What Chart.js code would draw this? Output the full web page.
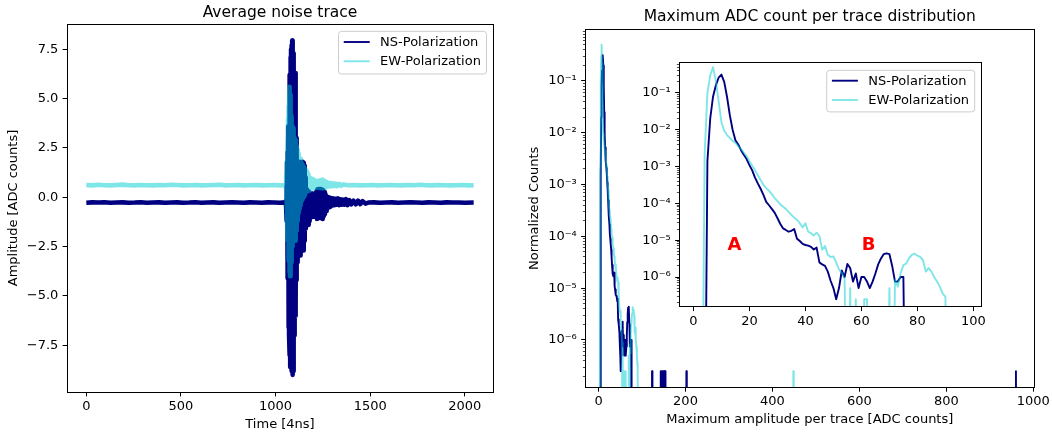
<!DOCTYPE html>
<html>
<head>
<meta charset="utf-8">
<script src="https://cdn.jsdelivr.net/npm/chart.js@4.4.1/dist/chart.umd.min.js"></script>
<style>
html, body { margin: 0; padding: 0; background: #ffffff; }
#wrap { position: relative; width: 1052px; height: 437px; overflow: hidden; background: #ffffff; }
#wrap canvas { position: absolute; }
</style>
</head>
<body>
<div id="wrap">
  <canvas id="cTrace" width="520" height="437" style="left:0px;top:0px;width:520px;height:437px"></canvas>
  <canvas id="cHist" width="532" height="437" style="left:520px;top:0px;width:532px;height:437px"></canvas>
  <canvas id="cInset" width="375" height="300" style="left:620px;top:40px;width:375px;height:300px"></canvas>
</div>
<script>
// ---------------- DATA ----------------
const seriesNames = ['NS-Polarization', 'EW-Polarization'];

// Average noise trace: [time sample (4 ns), amplitude (ADC counts)]
const nsTrace = [
  [0,-0.28],[32,-0.26],[64,-0.27],[96,-0.25],[128,-0.28],[160,-0.27],[192,-0.26],[224,-0.28],[256,-0.27],[288,-0.25],
  [320,-0.28],[352,-0.27],[384,-0.26],[416,-0.28],[448,-0.27],[480,-0.26],[512,-0.28],[544,-0.27],[576,-0.25],[608,-0.28],
  [640,-0.27],[672,-0.26],[704,-0.28],[736,-0.27],[768,-0.26],[800,-0.27],[832,-0.28],[864,-0.26],[896,-0.27],[928,-0.28],
  [960,-0.26],[992,-0.27],[1024,-0.28],[1048,-0.26],
  [1054,-0.2],[1056,-0.5],[1058,0.6],[1059.5,-1.2],[1061,1.8],[1062.5,-3.0],[1064,2.3],[1065.5,-4.1],[1067,3.6],[1068.5,-6.6],
  [1070,3.0],[1071.5,-7.0],[1073,4.6],[1074.5,-8.0],[1076,6.2],[1077.5,-8.6],[1079,7.1],[1080.5,-7.9],[1082,7.5],[1083.5,-8.8],
  [1085,7.7],[1086.5,-8.5],[1088,7.94],[1089.5,-9.0],[1091,7.7],[1092.5,-8.8],[1094,7.3],[1095.5,-8.1],[1097,6.8],[1098.5,-7.0],
  [1100,6.2],[1101.5,-6.6],[1103,6.3],[1104.5,-6.0],[1106,5.0],[1107.5,-5.6],[1109,3.0],[1110.5,-4.2],[1112,1.6],[1113.5,-3.3],
  [1115,1.0],[1116.5,-2.5],[1118,0.6],[1119.5,-1.8],[1121,1.2],[1122.5,-2.3],[1124,1.5],[1125.5,-2.6],[1127,1.8],[1128.5,-2.9],
  [1130,1.7],[1131.5,-2.95],[1133,1.5],[1134.5,-2.6],[1136,1.4],[1137.5,-2.2],[1139,1.5],[1140.5,-2.0],[1142,1.7],[1143.5,-2.4],
  [1145,1.8],[1146.5,-2.7],[1148,1.75],[1149.5,-2.5],[1151,1.6],[1152.5,-2.2],[1154,1.3],[1155.5,-1.9],[1157,1.0],[1158.5,-1.6],
  [1160,0.7],[1162,-1.3],[1164,0.4],[1166,-1.1],[1168,0.2],[1170,-0.9],[1172,0.3],[1174,-1.4],[1176,0.1],[1178,-1.2],
  [1180,0.0],[1183,-1.0],[1186,0.1],[1189,-0.8],[1192,0.2],[1195,-1.0],[1198,0.0],[1201,-0.8],[1204,0.1],[1207,-0.9],
  [1210,0.2],[1213,-1.0],[1216,0.3],[1219,-1.1],[1222,0.4],[1225,-1.05],[1228,0.42],[1231,-1.0],[1234,0.42],[1237,-1.05],
  [1240,0.42],[1243,-1.0],[1246,0.38],[1249,-1.1],[1252,0.3],[1255,-0.95],[1258,0.25],[1261,-0.85],[1264,0.15],[1267,-0.7],
  [1270,0.05],[1274,-0.55],[1278,0.0],[1282,-0.52],[1286,-0.02],[1290,-0.48],[1295,-0.05],[1300,-0.42],[1306,-0.06],[1312,-0.4],
  [1318,-0.08],[1324,-0.38],[1330,-0.06],[1336,-0.4],[1342,-0.1],[1348,-0.38],[1356,-0.12],[1364,-0.38],[1372,-0.1],[1380,-0.4],
  [1390,-0.15],[1400,-0.36],[1412,-0.17],[1424,-0.36],[1436,-0.17],[1448,-0.35],[1460,-0.2],[1475,-0.32],
  [1490,-0.27],[1520,-0.26],[1552,-0.28],[1584,-0.27],[1616,-0.26],[1648,-0.28],[1680,-0.27],[1712,-0.26],[1744,-0.27],[1776,-0.28],
  [1808,-0.26],[1840,-0.27],[1872,-0.28],[1904,-0.26],[1936,-0.27],[1968,-0.27],[2000,-0.28],[2047,-0.27]
];
const ewTrace = [
  [0,0.62],[32,0.60],[64,0.63],[96,0.61],[128,0.60],[160,0.62],[192,0.64],[224,0.61],[256,0.60],[288,0.62],
  [320,0.61],[352,0.60],[384,0.62],[416,0.61],[448,0.63],[480,0.62],[512,0.60],[544,0.61],[576,0.62],[608,0.60],
  [640,0.61],[672,0.62],[704,0.63],[736,0.60],[768,0.61],[800,0.62],[832,0.60],[864,0.61],[896,0.62],[928,0.60],
  [960,0.61],[992,0.62],[1024,0.60],[1052,0.62],
  [1055,0.45],[1057,1.2],[1058.5,-0.6],[1060,1.8],[1061.5,-1.6],[1063,2.8],[1064.5,-2.2],[1066,4.0],[1067.5,-2.6],[1069,4.6],
  [1070.5,-3.2],[1072,5.2],[1073.5,-3.8],[1075,5.6],[1076.5,-4.0],[1078,5.2],[1079.5,-3.9],[1081,4.6],[1082.5,-3.3],[1084,4.1],
  [1085.5,-2.9],[1087,3.6],[1088.5,-2.5],[1090,3.1],[1091.5,-2.4],[1093,3.3],[1094.5,-2.2],[1096,3.5],[1097.5,-2.0],[1099,3.0],
  [1100.5,-1.9],[1102,2.8],[1103.5,-2.2],[1105,2.7],[1106.5,-2.0],[1108,2.9],[1109.5,-1.7],[1111,2.6],[1112.5,-1.4],[1114,2.4],
  [1115.5,-1.2],[1117,2.3],[1118.5,-1.0],[1120,2.2],[1121.5,-0.8],[1123,2.1],[1124.5,-0.6],[1126,2.0],[1128,-0.5],[1130,1.95],
  [1132,-0.4],[1134,1.85],[1136,-0.2],[1138,1.75],[1140,-0.1],[1143,1.65],[1146,0.0],[1149,1.55],[1152,0.1],[1155,1.45],
  [1158,0.2],[1161,1.35],[1164,0.3],[1167,1.25],[1170,0.3],[1174,1.15],[1178,0.35],[1182,1.0],[1186,0.42],[1190,0.95],
  [1194,0.44],[1198,0.9],[1202,0.46],[1206,0.85],[1210,0.47],[1214,0.82],[1218,0.48],[1222,0.8],[1226,0.48],[1230,0.84],
  [1234,0.47],[1238,0.86],[1242,0.46],[1246,0.88],[1250,0.45],[1254,0.86],[1258,0.47],[1262,0.8],[1266,0.5],[1270,0.74],
  [1275,0.54],[1280,0.72],[1285,0.55],[1290,0.72],[1296,0.56],[1302,0.7],[1310,0.57],[1318,0.69],[1326,0.57],[1336,0.67],
  [1346,0.58],[1358,0.65],
  [1380,0.61],[1412,0.62],[1444,0.60],[1476,0.61],[1508,0.62],[1540,0.60],[1572,0.61],[1604,0.62],[1636,0.61],[1668,0.60],
  [1700,0.62],[1732,0.61],[1764,0.63],[1796,0.61],[1828,0.60],[1860,0.62],[1892,0.61],[1924,0.60],[1956,0.61],[1988,0.62],
  [2020,0.60],[2047,0.61]
];

// Maximum ADC count histogram (normalized counts), bins in ADC counts
const histBins = [
  0,1,2,3,4,5,6,7,8,9, 10,11,12,13,14,15,16,17,18,19, 20,21,22,23,24,25,26,27,28,29,
  30,31,32,33,34,35,36,37,38,39, 40,41,42,43,44,45,46,47,48,49, 50,51,52,53,54,55,56,57,58,59,
  60,61,62,63,64,65,66,67,68,69, 70,71,72,73,74,75,76,77,78,79, 80,81,82,83,84,85,86,87,88,89,
  90,91,92,93,94,95,96,97,98
];
const nsHist = [
  0,0,0,0,0,1.4e-3,2.0e-2,7.9e-2,0.16,0.26,
  0.316,0.2,7.9e-2,2.5e-2,1.0e-2,5.2e-3,4.0e-3,2.8e-3,2.1e-3,1.6e-3,
  1.1e-3,7.9e-4,5.0e-4,3.5e-4,2.5e-4,1.7e-4,1.1e-4,8.9e-5,7.1e-5,5.6e-5,
  4.0e-5,2.8e-5,2.1e-5,1.9e-5,1.7e-5,1.8e-5,2.0e-5,1.1e-5,9.5e-6,7.9e-6,
  7.4e-6,7.1e-6,6.6e-6,5.6e-6,6.3e-6,2.5e-6,2.2e-6,2.0e-6,1.4e-6,7.9e-7,
  5.0e-7,2.5e-7,5.0e-7,1.5e-6,1.0e-6,2.25e-6,1.75e-6,7.5e-7,1.25e-6,5.0e-7,
  1.0e-6,1.0e-6,7.5e-7,5.0e-7,7.5e-7,1.25e-6,2.2e-6,3.2e-6,4.2e-6,4.4e-6,
  4.2e-6,2.0e-6,7.5e-7,7.5e-7,1.0e-6,1.0e-6,0,0,0,0,
  0,0,0,0,0,0,0,0,0,0,
  0,0,0,0,0,0,0,0,0
];
const ewHist = [
  0,0,0,0,2.0e-3,0.1,0.3,0.5,0.22,6.0e-2,
  1.6e-2,9.5e-3,7.2e-3,6.0e-3,5.0e-3,4.4e-3,3.6e-3,3.0e-3,2.4e-3,1.9e-3,
  1.4e-3,1.05e-3,7.9e-4,5.9e-4,4.3e-4,3.2e-4,2.6e-4,2.2e-4,1.8e-4,1.4e-4,
  1.15e-4,9.5e-5,8.1e-5,7.1e-5,5.9e-5,4.9e-5,4.1e-5,3.6e-5,2.9e-5,2.2e-5,
  2.9e-5,1.7e-5,1.55e-5,1.35e-5,1.6e-5,1.3e-5,5.5e-6,7.0e-6,4.0e-6,3.5e-6,
  3.6e-6,2.5e-6,1.6e-6,1.3e-6,9.0e-7,0,5.0e-7,0,2.5e-7,0,
  0,2.5e-7,2.5e-7,0,0,0,0,0,0,0,
  5.0e-7,0,8.3e-7,5.5e-7,1.25e-6,2.1e-6,2.3e-6,3.2e-6,4.0e-6,4.3e-6,
  3.8e-6,3.5e-6,2.9e-6,1.4e-6,1.75e-6,1.4e-6,1.0e-6,7.5e-7,5.5e-7,3.6e-7,
  2.9e-7,0,0,0,0,0,0,0,0
];
// isolated high-amplitude traces (full-range panel only)
const nsTailBins = [122,123,124, 142,143,144,145,146,147,148,149,150,151,152,153,154, 201,202,203, 959,960,961];
const nsTailVals = [0,2.5e-7,0, 0,2.5e-7,0,2.5e-7,0,2.5e-7,0,2.5e-7,2.5e-7,2.5e-7,0,2.5e-7,0, 0,2.5e-7,0, 0,2.5e-7,0];
const ewTailBins = [447,448,449];
const ewTailVals = [0,2.5e-7,0];

// ticks
const timeTicks = [0, 500, 1000, 1500, 2000];
const timeTickLabels = ['0', '500', '1000', '1500', '2000'];
const ampTicks = [-7.5, -5, -2.5, 0, 2.5, 5, 7.5];
const ampTickLabels = ['\u22127.5', '\u22125.0', '\u22122.5', '0.0', '2.5', '5.0', '7.5'];
const adcTicks = [0, 200, 400, 600, 800, 1000];
const adcTickLabels = ['0', '200', '400', '600', '800', '1000'];
const insetTicks = [0, 20, 40, 60, 80, 100];
const insetTickLabels = ['0', '20', '40', '60', '80', '100'];
const countTicks = [1e-6, 1e-5, 1e-4, 1e-3, 1e-2, 1e-1];
const countTickLabels = ['10\u207B\u2076', '10\u207B\u2075', '10\u207B\u2074', '10\u207B\u00B3', '10\u207B\u00B2', '10\u207B\u00B9'];

// region annotations in inset
const regionLabels = ['A', 'B'];
const regionX = [14.7, 62.6];
const regionY = [7.1e-6, 7.1e-6];

// ---------------- STYLE / HELPERS ----------------
const FONT = "'DejaVu Sans', 'Liberation Sans', sans-serif";
const NAVY = '#000080';
const TURQ = 'rgba(0,206,209,0.5)';
const EMPTY_BIN = 1e-12; // empty bins fall off the bottom of the log axis (like matplotlib clipping)

Chart.defaults.font.family = FONT;
Chart.defaults.font.size = 13;
Chart.defaults.color = '#000';

const pairPts = arr => arr.map(p => ({x: p[0], y: p[1]}));
const logPts = (xs, ys) => xs.map((x, i) => ({x: x, y: ys[i] > 0 ? ys[i] : EMPTY_BIN}));
const al = v => Math.round(v - 0.5) + 0.5;

const framePlugin = {
  id: 'frame',
  beforeDraw(chart, args, opts) {
    if (!opts || !opts.fill) return;
    const {ctx, chartArea: a} = chart;
    ctx.save();
    ctx.fillStyle = '#ffffff';
    ctx.fillRect(a.left, a.top, a.right - a.left, a.bottom - a.top);
    ctx.restore();
  },
  afterDatasetsDraw(chart) {
    const {ctx, chartArea: a} = chart;
    ctx.save();
    ctx.strokeStyle = '#000';
    ctx.lineWidth = 1;
    ctx.strokeRect(al(a.left), al(a.top), al(a.right) - al(a.left), al(a.bottom) - al(a.top));
    ctx.restore();
  }
};

const minorTickPlugin = {
  id: 'minorTicks',
  afterDraw(chart, args, opts) {
    if (!opts || !opts.axis) return;
    const s = chart.scales[opts.axis];
    const ctx = chart.ctx;
    ctx.save();
    ctx.strokeStyle = '#000';
    ctx.lineWidth = 0.7;
    const e0 = Math.floor(Math.log10(s.min)), e1 = Math.ceil(Math.log10(s.max));
    for (let e = e0; e <= e1; e++) {
      for (let m = 2; m <= 9; m++) {
        const v = m * Math.pow(10, e);
        if (v < s.min || v > s.max) continue;
        const y = al(s.getPixelForValue(v));
        ctx.beginPath();
        ctx.moveTo(s.right - 2.6, y);
        ctx.lineTo(s.right, y);
        ctx.stroke();
      }
    }
    ctx.restore();
  }
};

const boxLegendPlugin = {
  id: 'boxLegend',
  afterDraw(chart, args, o) {
    if (!o || !o.items) return;
    const {ctx, chartArea: a} = chart;
    ctx.save();
    ctx.font = '13px ' + FONT;
    const tw = Math.max.apply(null, o.items.map(it => ctx.measureText(it.label).width));
    const w = 5.2 + 26 + 10.4 + tw + 5.6;
    const h = o.height;
    const x = a.right - o.gapRight - w;
    const y = a.top + o.gapTop;
    ctx.beginPath();
    if (ctx.roundRect) ctx.roundRect(x, y, w, h, 3); else ctx.rect(x, y, w, h);
    ctx.fillStyle = 'rgba(255,255,255,0.8)';
    ctx.fill();
    ctx.strokeStyle = '#cccccc';
    ctx.lineWidth = 1;
    ctx.stroke();
    o.items.forEach((it, i) => {
      const cy = y + o.firstRow + i * o.rowStep;
      ctx.beginPath();
      ctx.moveTo(x + 5.2, cy);
      ctx.lineTo(x + 31.2, cy);
      ctx.strokeStyle = it.color;
      ctx.lineWidth = 1.9;
      ctx.stroke();
      ctx.fillStyle = '#000';
      ctx.textAlign = 'left';
      ctx.textBaseline = 'middle';
      ctx.fillText(it.label, x + 41.6, cy + 0.5);
    });
    ctx.restore();
  }
};

const regionLabelPlugin = {
  id: 'regionLabels',
  afterDatasetsDraw(chart, args, o) {
    if (!o || !o.labels) return;
    const ctx = chart.ctx;
    ctx.save();
    ctx.font = 'bold 18px ' + FONT;
    ctx.fillStyle = '#ff0000';
    ctx.textAlign = 'center';
    ctx.textBaseline = 'middle';
    o.labels.forEach((t, i) => {
      ctx.fillText(t, chart.scales.x.getPixelForValue(o.xs[i]), chart.scales.y.getPixelForValue(o.ys[i]));
    });
    ctx.restore();
  }
};

const legendItems = [
  {label: seriesNames[0], color: NAVY},
  {label: seriesNames[1], color: TURQ}
];

function tickGrid() {
  return { display: true, drawOnChartArea: false, drawTicks: true, tickLength: 4.4, tickColor: '#000', tickWidth: 1 };
}
function setTicks(values) {
  return s => { s.ticks = values.map(v => ({value: v})); };
}
function fixH(h) {
  return s => { s.height = h; s.paddingLeft = 0; s.paddingRight = 0; };
}
function fixW(w) {
  return s => { s.width = w; s.paddingTop = 0; s.paddingBottom = 0; };
}
const lineCommon = { pointRadius: 0, borderJoinStyle: 'round', borderCapStyle: 'butt', tension: 0, fill: false };

// ---------------- LEFT: average noise trace ----------------
new Chart(document.getElementById('cTrace'), {
  type: 'line',
  data: {
    datasets: [
      Object.assign({ label: seriesNames[0], data: pairPts(nsTrace), borderColor: NAVY, borderWidth: 4.6, order: 1 }, lineCommon),
      Object.assign({ label: seriesNames[1], data: pairPts(ewTrace), borderColor: TURQ, borderWidth: 4.6, order: 0 }, lineCommon)
    ]
  },
  options: {
    responsive: false, animation: false, devicePixelRatio: 1, events: [],
    layout: { padding: { left: 0, right: 27, top: 0, bottom: 0 } },
    plugins: {
      legend: { display: false }, tooltip: { enabled: false },
      title: { display: true, fullSize: false, text: 'Average noise trace', color: '#000', font: { size: 15.5, weight: 'normal' }, padding: { top: 3.2, bottom: 2.2 } },
      boxLegend: { items: legendItems, height: 42.7, gapRight: 6.5, gapTop: 7.3, firstRow: 10.7, rowStep: 19.3 }
    },
    scales: {
      x: {
        type: 'linear', min: -102, max: 2149, bounds: 'data',
        afterFit: fixH(45),
        afterBuildTicks: setTicks(timeTicks),
        ticks: { autoSkip: false, maxRotation: 0, padding: 2.5, color: '#000', callback: (v, i) => timeTickLabels[i] },
        grid: tickGrid(), border: { display: false },
        title: { display: true, text: 'Time [4ns]', color: '#000', font: { size: 13 }, padding: { top: 0, bottom: 4.9 } }
      },
      y: {
        type: 'linear', min: -9.87, max: 8.78, bounds: 'data',
        afterFit: fixW(67),
        afterBuildTicks: setTicks(ampTicks),
        ticks: { autoSkip: false, padding: 4.3, color: '#000', callback: (v, i) => ampTickLabels[i] },
        grid: tickGrid(), border: { display: false },
        title: { display: true, text: 'Amplitude [ADC counts]', color: '#000', font: { size: 13 }, padding: { top: 6.2, bottom: 0 } }
      }
    }
  },
  plugins: [framePlugin, boxLegendPlugin]
});

// ---------------- RIGHT: histogram, full range ----------------
new Chart(document.getElementById('cHist'), {
  type: 'line',
  data: {
    datasets: [
      Object.assign({ label: seriesNames[0], data: logPts(histBins.concat(nsTailBins), nsHist.concat(nsTailVals)), borderColor: NAVY, borderWidth: 1.9, order: 1, clip: 0 }, lineCommon),
      Object.assign({ label: seriesNames[1], data: logPts(histBins.concat(ewTailBins), ewHist.concat(ewTailVals)), borderColor: TURQ, borderWidth: 1.9, order: 0, clip: 0 }, lineCommon)
    ]
  },
  options: {
    responsive: false, animation: false, devicePixelRatio: 1, events: [],
    layout: { padding: { left: 0, right: 18, top: 0, bottom: 0 } },
    plugins: {
      legend: { display: false }, tooltip: { enabled: false },
      title: { display: true, fullSize: false, text: 'Maximum ADC count per trace distribution', color: '#000', font: { size: 15.5, weight: 'normal' }, padding: { top: 7.5, bottom: 3.2 } },
      minorTicks: { axis: 'y' }
    },
    scales: {
      x: {
        type: 'linear', min: -30, max: 1001.5, bounds: 'data',
        afterFit: fixH(49.7),
        afterBuildTicks: setTicks(adcTicks),
        ticks: { autoSkip: false, maxRotation: 0, padding: 2.5, color: '#000', callback: (v, i) => adcTickLabels[i] },
        grid: tickGrid(), border: { display: false },
        title: { display: true, text: 'Maximum amplitude per trace [ADC counts]', color: '#000', font: { size: 13 }, padding: { top: 0, bottom: 9.9 } }
      },
      y: {
        type: 'logarithmic', min: 1.22e-7, max: 0.995, bounds: 'data',
        afterFit: fixW(65.5),
        afterBuildTicks: setTicks(countTicks),
        ticks: { autoSkip: false, padding: 4.3, color: '#000', callback: (v, i) => countTickLabels[i] },
        grid: tickGrid(), border: { display: false },
        title: { display: true, text: 'Normalized Counts', color: '#000', font: { size: 13 }, padding: { top: 6.5, bottom: 0 } }
      }
    }
  },
  plugins: [framePlugin, minorTickPlugin]
});

// ---------------- INSET: histogram, zoom 0-100 ----------------
new Chart(document.getElementById('cInset'), {
  type: 'line',
  data: {
    datasets: [
      Object.assign({ label: seriesNames[0], data: logPts(histBins, nsHist), borderColor: NAVY, borderWidth: 1.9, order: 1, clip: 0 }, lineCommon),
      Object.assign({ label: seriesNames[1], data: logPts(histBins, ewHist), borderColor: TURQ, borderWidth: 1.9, order: 0, clip: 0 }, lineCommon)
    ]
  },
  options: {
    responsive: false, animation: false, devicePixelRatio: 1, events: [],
    layout: { padding: { left: 0, right: 13.5, top: 22.3, bottom: 0 } },
    plugins: {
      legend: { display: false }, tooltip: { enabled: false }, title: { display: false },
      frame: { fill: true },
      minorTicks: { axis: 'y' },
      boxLegend: { items: legendItems, height: 41.6, gapRight: 6.8, gapTop: 8.0, firstRow: 10.4, rowStep: 19.3 },
      regionLabels: { labels: regionLabels, xs: regionX, ys: regionY }
    },
    scales: {
      x: {
        type: 'linear', min: -4.97, max: 102.9, bounds: 'data',
        afterFit: fixH(33.3),
        afterBuildTicks: setTicks(insetTicks),
        ticks: { autoSkip: false, maxRotation: 0, padding: 2.5, color: '#000', callback: (v, i) => insetTickLabels[i] },
        grid: tickGrid(), border: { display: false }
      },
      y: {
        type: 'logarithmic', min: 1.56e-7, max: 0.682, bounds: 'data',
        afterFit: fixW(59.5),
        afterBuildTicks: setTicks(countTicks),
        ticks: { autoSkip: false, padding: 4.3, color: '#000', callback: (v, i) => countTickLabels[i] },
        grid: tickGrid(), border: { display: false }
      }
    }
  },
  plugins: [framePlugin, minorTickPlugin, boxLegendPlugin, regionLabelPlugin]
});
</script>
</body>
</html>
